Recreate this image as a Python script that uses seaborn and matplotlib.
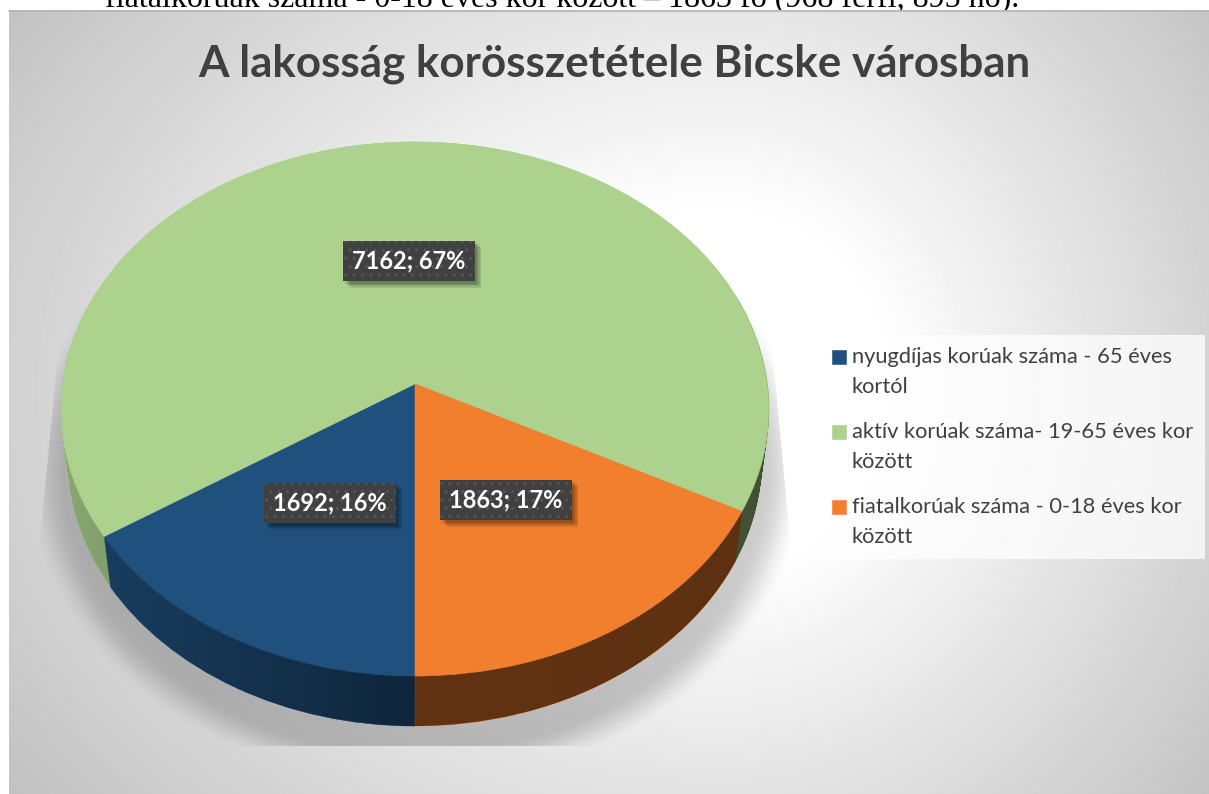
import numpy as np
import matplotlib
matplotlib.use("Agg")
import matplotlib.pyplot as plt
import matplotlib.patheffects as pe
from matplotlib.patches import Polygon
from matplotlib.path import Path
from matplotlib.transforms import Transform
import seaborn as sns

# data
categories = [
    "nyugdíjas korúak száma - 65 éves\nkortól",
    "aktív korúak száma- 19-65 éves kor\nközött",
    "fiatalkorúak száma - 0-18 éves kor\nközött",
]
values = [1692, 7162, 1863]
colors = sns.color_palette(["#20507d", "#acd28e", "#f27f2e"])
title = "A lakosság korösszetétele Bicske városban"
page_text = "fiatalkorúak száma - 0-18 éves kor között – 1863 fő (968 férfi, 895 nő)."

W, H = 1209, 794
DARK = "#404040"

sns.set_theme(style="white")
plt.rcParams["font.family"] = ["Lato", "DejaVu Sans"]


class PieView(Transform):
    """Tilts the unit pie: apex at (415, 384), near edge larger than far edge."""
    input_dims = 2
    output_dims = 2

    def __init__(self, drop=0.0, shrink=1.0):
        super().__init__()
        self.drop = drop
        self.shrink = shrink

    def transform_non_affine(self, xy):
        xy = np.asarray(xy)
        w = 1 + 0.0936 * xy[:, 1]
        return np.column_stack((415 + self.shrink * 352.4 * xy[:, 0] / w,
                                384 + self.drop - 264.7 * xy[:, 1] / w))


def draw_pie(view, zorder):
    wedges, _ = ax.pie(values, colors=colors, startangle=270, counterclock=False,
                       wedgeprops=dict(linewidth=0.4, zorder=zorder))
    for wedge in wedges:
        wedge.set_edgecolor(wedge.get_facecolor())
        wedge.set_transform(view + ax.transData)
    return wedges


fig = plt.figure(figsize=(W / 100, H / 100), dpi=100, facecolor="white")
ax = fig.add_axes([0, 0, 1, 1])

ax.text(105, 7, page_text, family="Liberation Serif", fontsize=23, color="black",
        va="baseline", ha="left", zorder=0.5)

# backdrop
yy, xx = np.mgrid[10:794, 9:1209]
xscale = np.where(xx < 720, 640, 460)
r = np.sqrt(((xx - 720) / xscale) ** 2 + ((yy - 390) / 490) ** 2) / np.sqrt(2)
shade = 1 - 0.25 * np.clip((r - 0.25) / 0.75, 0, 1)
ax.imshow(shade, cmap="gray", vmin=0, vmax=1, extent=(9, 1209, 794, 10),
          aspect="auto", zorder=1, interpolation="bilinear")
ax.plot([9, 1209], [10.5, 10.5], color="#b4b4b4", lw=1.2, zorder=1.1)

# soft floor shadow
yy, xx = np.mgrid[280:750, 30:800]
d = np.sqrt(((xx - 415) / 385) ** 2 + ((yy - 470) / 310) ** 2)
fade = np.clip((1.02 - d) / 0.12, 0, 1)
rgba = np.zeros(d.shape + (4,))
rgba[..., 3] = 0.2 * fade * fade * (3 - 2 * fade)
floor = ax.imshow(rgba, extent=(30, 800, 750, 280), aspect="auto", zorder=1.5)
floor.set_clip_path(Polygon([(63, 300), (768, 300), (790, 540), (790, 746), (40, 746), (40, 540)],
                            transform=ax.transData))

# rim: the same pie stacked downwards, then darkened from left to right
rim_paths = []
for t in np.linspace(1, 0, 52):
    view = PieView(drop=50 * t, shrink=1 - 0.02 * t)
    for wedge in draw_pie(view, 2):
        rim_paths.append(view.transform_path(wedge.get_path().transformed(wedge.get_patch_transform())))

xs = np.arange(40, 790)
rim_shade = np.zeros((1, xs.size, 4))
rim_shade[..., 3] = np.interp(xs, [60, 415, 416, 770], [0.2, 0.53, 0.6, 0.62])
rim = ax.imshow(rim_shade, extent=(40, 790, 760, 300), aspect="auto", zorder=2.5)
rim.set_clip_path(Path.make_compound_path(*rim_paths), transform=ax.transData)

# top face
tops = draw_pie(PieView(), 3)

# value labels
total = sum(values)
for val, (px, py) in zip(values, [(330, 503), (409, 261), (506, 500)]):
    txt = ax.text(px, py, f"{val}; {val / total:.0%}", color="white", fontsize=17,
                  fontweight="bold", ha="center", va="center", zorder=5,
                  bbox=dict(boxstyle="square,pad=0.38", facecolor=DARK, edgecolor="#565656",
                            linewidth=0, hatch=".."))
    glow = [pe.SimplePatchShadow(offset=(s, -s), shadow_rgbFace="black", alpha=0.11, hatch=None)
            for s in (1.5, 2.5, 3.5, 4.5)]
    txt.get_bbox_patch().set_path_effects(glow + [pe.Normal()])

ax.text(614, 64, title, color=DARK, fontsize=31.7, fontweight="bold", ha="center",
        va="center", zorder=5)

ax.set_aspect("auto")
ax.set_xlim(0, W)
ax.set_ylim(H, 0)
ax.axis("off")

leg = ax.legend(tops, categories, loc="upper left", bbox_to_anchor=(820 / W, 1 - 335 / H),
                bbox_transform=ax.transAxes, borderaxespad=0, fontsize=15.75,
                frameon=True, fancybox=False, framealpha=0.75, facecolor="white",
                edgecolor="none", labelcolor=DARK, handlelength=0.64, handleheight=0.64,
                handletextpad=0.27, labelspacing=1.16, borderpad=0.55)
leg.set_zorder(4)
for label in leg.get_texts():
    label.set_linespacing(1.6)
for handle in leg.legend_handles:
    handle.set_y(handle.get_y() + 10.8)

fig.savefig("out.png", dpi=100, facecolor="white")
